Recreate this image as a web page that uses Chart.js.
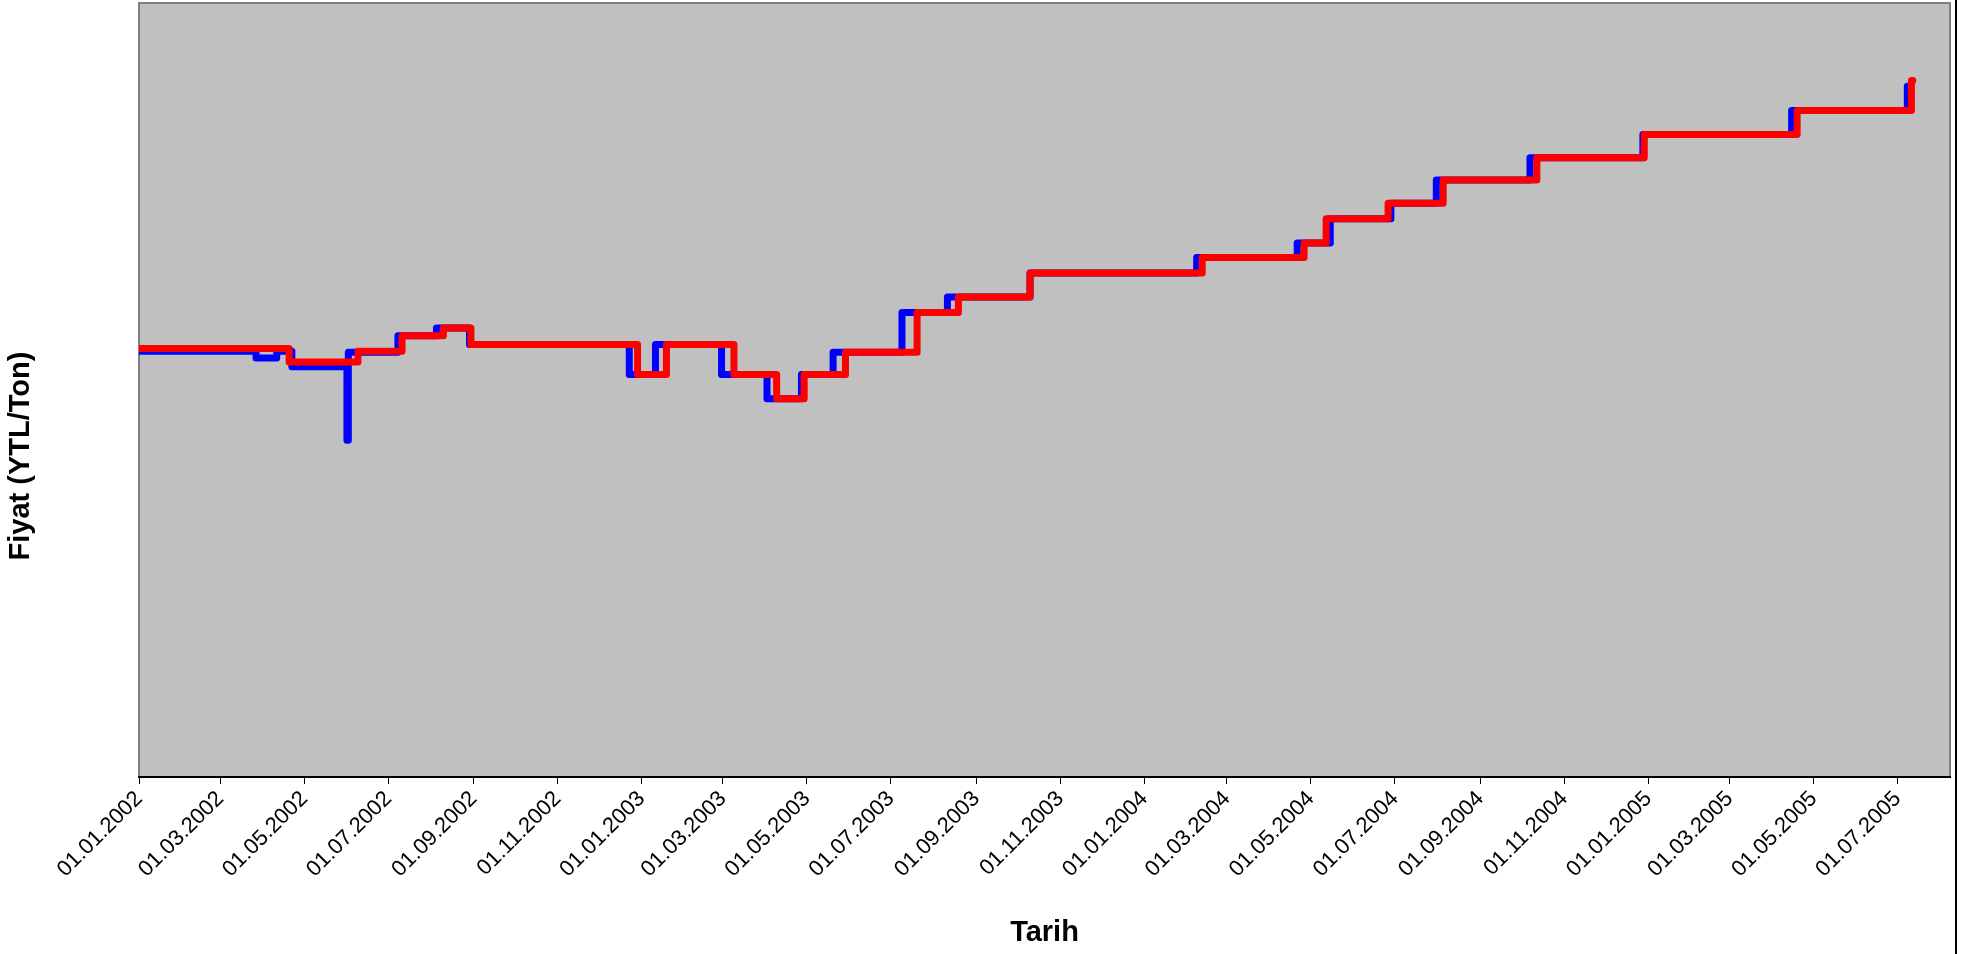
<!DOCTYPE html>
<html>
<head>
<meta charset="utf-8">
<script src="https://cdn.jsdelivr.net/npm/chart.js@4.4.0/dist/chart.umd.min.js"></script>
<style>
  html, body { margin: 0; padding: 0; background: #fff; }
  #wrap { width: 1963px; height: 954px; position: relative; }
</style>
</head>
<body>
<div id="wrap"><canvas id="priceChart"></canvas></div>
<script>
// x values: days counted from 01.01.2002
const tickLabels = [
    '01.01.2002', '01.03.2002', '01.05.2002', '01.07.2002', '01.09.2002', '01.11.2002',
    '01.01.2003', '01.03.2003', '01.05.2003', '01.07.2003', '01.09.2003', '01.11.2003',
    '01.01.2004', '01.03.2004', '01.05.2004', '01.07.2004', '01.09.2004', '01.11.2004',
    '01.01.2005', '01.03.2005', '01.05.2005', '01.07.2005'
];
const axisEndDay = 1315;

// blue series: day of each price change and the new price
const blueDays = [0, 85, 100, 111, 151, 152, 188, 216, 240, 356, 375, 423, 456, 481, 504, 554, 587, 647, 768, 841, 865, 909, 942, 1010, 1092, 1200, 1284, 1285];
const blueValues = [440, 433, 440, 424, 348, 439, 456, 464, 447, 416, 447, 416, 391, 416, 439, 480, 496, 521, 537, 552, 577, 593, 617, 640, 664, 689, 714, 714];

// red series
const redDays = [0, 109, 159, 191, 221, 241, 362, 383, 432, 463, 483, 513, 565, 595, 647, 772, 846, 862, 907, 947, 1015, 1093, 1204, 1287, 1288];
const redValues = [443, 429, 440, 456, 464, 447, 416, 447, 416, 391, 416, 439, 480, 496, 521, 537, 552, 577, 593, 617, 640, 664, 689, 720, 720];

const yTitle = 'Fiyat (YTL/Ton)';
const fontFamily = 'Liberation Sans, Arial, sans-serif';

function dayOf(label) {
    const [d, m, y] = label.split('.').map(Number);
    return Math.round((Date.UTC(y, m - 1, d) - Date.UTC(2002, 0, 1)) / 86400000);
}

function toPoints(days, values) {
    return days.map((d, i) => ({ x: d, y: values[i] }));
}

const plotBackground = {
    id: 'plotBackground',
    beforeDraw(chart) {
        const { ctx, chartArea: a } = chart;
        ctx.save();
        ctx.fillStyle = '#c0c0c0';
        ctx.fillRect(a.left, a.top, a.width, a.height);
        ctx.strokeStyle = '#808080';
        ctx.lineWidth = 2;
        ctx.strokeRect(a.left, a.top, a.width, a.height);
        // edge of the outer chart frame
        ctx.strokeStyle = '#000';
        ctx.beginPath();
        ctx.moveTo(1956, 0);
        ctx.lineTo(1956, chart.height);
        ctx.stroke();
        ctx.restore();
    },
    afterDraw(chart) {
        // y title sits lower than the axis centre, so it is drawn here
        const { ctx } = chart;
        ctx.save();
        ctx.translate(21, 456);
        ctx.rotate(-Math.PI / 2);
        ctx.textAlign = 'center';
        ctx.textBaseline = 'middle';
        ctx.fillStyle = '#000';
        ctx.font = 'bold 29px ' + fontFamily;
        ctx.fillText(yTitle, 0, 0);
        ctx.restore();
    }
};

const ctx = document.getElementById('priceChart').getContext('2d');

new Chart(ctx, {
    type: 'line',
    data: {
        datasets: [{
            label: 'Seri 2',
            data: toPoints(redDays, redValues),
            borderColor: '#ff0000',
            order: 1
        }, {
            label: 'Seri 1',
            data: toPoints(blueDays, blueValues),
            borderColor: '#0000ff',
            order: 2
        }]
    },
    options: {
        responsive: true,
        maintainAspectRatio: false,
        animation: false,
        layout: { padding: { top: 3, right: 13, left: 0, bottom: 0 } },
        elements: {
            point: { radius: 0, hoverRadius: 0 },
            line: {
                borderWidth: 7,
                stepped: true,
                borderJoinStyle: 'round',
                borderCapStyle: 'round',
                fill: false
            }
        },
        plugins: {
            legend: { display: false },
            tooltip: { enabled: false }
        },
        scales: {
            x: {
                type: 'linear',
                min: 0,
                max: axisEndDay,
                afterBuildTicks(scale) {
                    scale.ticks = tickLabels.map(l => ({ value: dayOf(l) }));
                },
                afterFit(scale) {
                    scale.height = 177;
                    scale.paddingLeft = 0;
                    scale.paddingRight = 0;
                },
                ticks: {
                    autoSkip: false,
                    minRotation: 45,
                    maxRotation: 45,
                    padding: 2,
                    color: '#000',
                    font: { family: fontFamily, size: 22 },
                    callback: function (val, i) {
                        return tickLabels[i];
                    }
                },
                grid: {
                    drawOnChartArea: false,
                    drawTicks: true,
                    tickLength: 7,
                    tickColor: '#000',
                    tickWidth: 1
                },
                border: { display: true, color: '#000', width: 2 },
                title: {
                    display: true,
                    text: 'Tarih',
                    color: '#000',
                    font: { family: fontFamily, size: 29, weight: 'bold' },
                    padding: { top: 0, bottom: 4 }
                }
            },
            y: {
                min: 0,
                max: 800,
                afterFit(scale) {
                    scale.width = 139;
                },
                ticks: { display: false },
                grid: { display: false },
                border: { display: false },
                title: { display: false }
            }
        }
    },
    plugins: [plotBackground]
});
</script>
</body>
</html>
